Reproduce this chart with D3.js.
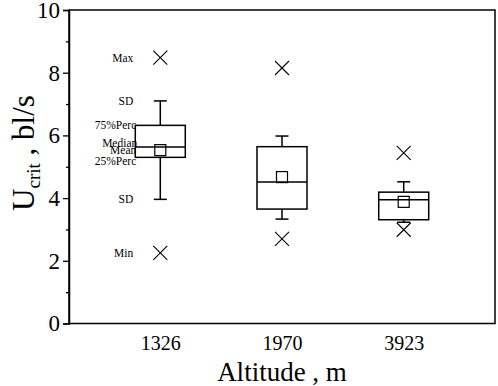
<!DOCTYPE html>
<html>
<head>
<meta charset="utf-8">
<script src="https://cdn.jsdelivr.net/npm/d3@7"></script>
<style>
  body { margin: 0; background: #fff; }
  svg text { font-family: 'Liberation Serif', 'Times New Roman', Times, serif; }
</style>
</head>
<body>
<script>
var width = 498
var height = 386
var serif = "'Liberation Serif', 'Times New Roman', Times, serif"

// values
var altitudes = ["1326", "1970", "3923"]
var maxV = [8.48, 8.15, 5.44]
var sdHigh = [7.10, 5.98, 4.52]
var q75 = [6.32, 5.64, 4.19]
var median = [5.63, 4.51, 3.95]
var mean = [5.53, 4.67, 3.88]
var q25 = [5.30, 3.65, 3.31]
var sdLow = [3.96, 3.33, 3.23]
var minV = [2.25, 2.70, 2.99]

var yTicks = [0, 2, 4, 6, 8, 10]
var yMinor = [1, 3, 5, 7, 9]

// labels drawn next to the first box
var notes = [
  { text: "Max", key: "max", dx: -27, dy: 4 },
  { text: "SD", key: "sdHigh", dx: -27, dy: 4 },
  { text: "75%Perc", key: "q75", dx: -24, dy: 4 },
  { text: "Median", key: "median", dx: -23, dy: 0 },
  { text: "Mean", key: "mean", dx: -24, dy: 4 },
  { text: "25%Perc", key: "q25", dx: -24, dy: 8 },
  { text: "SD", key: "sdLow", dx: -27, dy: 4 },
  { text: "Min", key: "min", dx: -27, dy: 4 }
]

var margin = { top: 10, right: 3, bottom: 62.5, left: 69 }

var data = altitudes.map((a, i) => ({
  alt: a,
  max: maxV[i], sdHigh: sdHigh[i], q75: q75[i], median: median[i],
  mean: mean[i], q25: q25[i], sdLow: sdLow[i], min: minV[i]
}))

var x = d3.scalePoint()
  .domain(altitudes)
  .range([margin.left, width - margin.right])
  .padding(0.75)

var y = d3.scaleLinear()
  .domain([0, 10])
  .range([height - margin.bottom, margin.top])

const svg = d3.select("body").append("svg")
  .attr("width", width)
  .attr("height", height)

// frame
svg.append("rect")
  .attr("x", margin.left)
  .attr("y", margin.top)
  .attr("width", width - margin.right - margin.left)
  .attr("height", height - margin.bottom - margin.top)
  .attr("fill", "none")
  .attr("stroke", "#000")
  .attr("stroke-width", 1.5)

// y axis
const yAxis = svg.append("g")
  .attr("transform", `translate(${margin.left},0)`)
  .call(d3.axisLeft(y).tickValues(yTicks).tickSize(6).tickPadding(3).tickFormat(d3.format("d")))
  .attr("font-family", serif)
yAxis.select(".domain").attr("stroke-width", 1.5)
yAxis.selectAll(".tick line").attr("stroke-width", 1.3)
yAxis.selectAll(".tick text")
  .style("font-family", serif)
  .attr("font-size", 23)
  .attr("fill", "#000")

svg.append("g")
  .attr("transform", `translate(${margin.left},0)`)
  .call(d3.axisLeft(y).tickValues(yMinor).tickSize(3).tickFormat(""))
  .call(g => g.select(".domain").remove())
  .selectAll(".tick line").attr("stroke-width", 1.3)

// x axis labels, no ticks
const xAxis = svg.append("g")
  .attr("transform", `translate(0,${height - margin.bottom})`)
  .call(d3.axisBottom(x).tickSize(0).tickPadding(12))
  .attr("font-family", serif)
xAxis.select(".domain").remove()
xAxis.selectAll(".tick text")
  .style("font-family", serif)
  .attr("font-size", 20)
  .attr("fill", "#000")

// axis titles
svg.append("text")
  .attr("x", (margin.left + width - margin.right) / 2)
  .attr("y", 381)
  .attr("text-anchor", "middle")
  .style("font-family", serif)
  .attr("font-size", 27)
  .text("Altitude , m")

const yt = svg.append("text")
  .attr("transform", "translate(34,153) rotate(-90)")
  .attr("text-anchor", "middle")
  .style("font-family", serif)
  .attr("font-size", 31)
yt.append("tspan").text("U")
yt.append("tspan").attr("font-size", 19).attr("dy", 6).text("crit")
yt.append("tspan").attr("dy", -6).text(" , bl/s")

// boxes
var boxW = 50, capW = 13, meanS = 11, crossS = 7

const g = svg.append("g")
  .attr("fill", "none")
  .attr("stroke", "#000")
  .attr("stroke-width", 1.5)

const box = g.selectAll("g.box")
  .data(data)
  .join("g")
  .attr("class", "box")

box.append("line")
  .attr("x1", d => x(d.alt)).attr("x2", d => x(d.alt))
  .attr("y1", d => y(d.sdHigh)).attr("y2", d => y(d.q75))
box.append("line")
  .attr("x1", d => x(d.alt)).attr("x2", d => x(d.alt))
  .attr("y1", d => y(d.q25)).attr("y2", d => y(d.sdLow))
box.append("line")
  .attr("x1", d => x(d.alt) - capW / 2).attr("x2", d => x(d.alt) + capW / 2)
  .attr("y1", d => y(d.sdHigh)).attr("y2", d => y(d.sdHigh))
box.append("line")
  .attr("x1", d => x(d.alt) - capW / 2).attr("x2", d => x(d.alt) + capW / 2)
  .attr("y1", d => y(d.sdLow)).attr("y2", d => y(d.sdLow))
box.append("rect")
  .attr("x", d => x(d.alt) - boxW / 2)
  .attr("y", d => y(d.q75))
  .attr("width", boxW)
  .attr("height", d => y(d.q25) - y(d.q75))
  .attr("fill", "#fff")
box.append("line")
  .attr("x1", d => x(d.alt) - boxW / 2).attr("x2", d => x(d.alt) + boxW / 2)
  .attr("y1", d => y(d.median)).attr("y2", d => y(d.median))
box.append("rect")
  .attr("x", d => x(d.alt) - meanS / 2)
  .attr("y", d => y(d.mean) - meanS / 2)
  .attr("width", meanS)
  .attr("height", meanS)
  .attr("stroke-width", 1.2)

// max / min crosses
function cross(sel, key) {
  sel.append("path")
    .attr("stroke-width", 1.1)
    .attr("d", d => {
      var cx = x(d.alt), cy = y(d[key])
      return `M${cx - crossS},${cy - crossS}L${cx + crossS},${cy + crossS}M${cx - crossS},${cy + crossS}L${cx + crossS},${cy - crossS}`
    })
}
cross(box, "max")
cross(box, "min")

// notes beside the first box
svg.append("g")
  .selectAll("text")
  .data(notes)
  .join("text")
  .attr("x", d => x(altitudes[0]) + d.dx)
  .attr("y", d => y(data[0][d.key]) + d.dy)
  .attr("text-anchor", "end")
  .style("font-family", serif)
  .attr("font-size", 11.5)
  .text(d => d.text)
</script>
</body>
</html>
